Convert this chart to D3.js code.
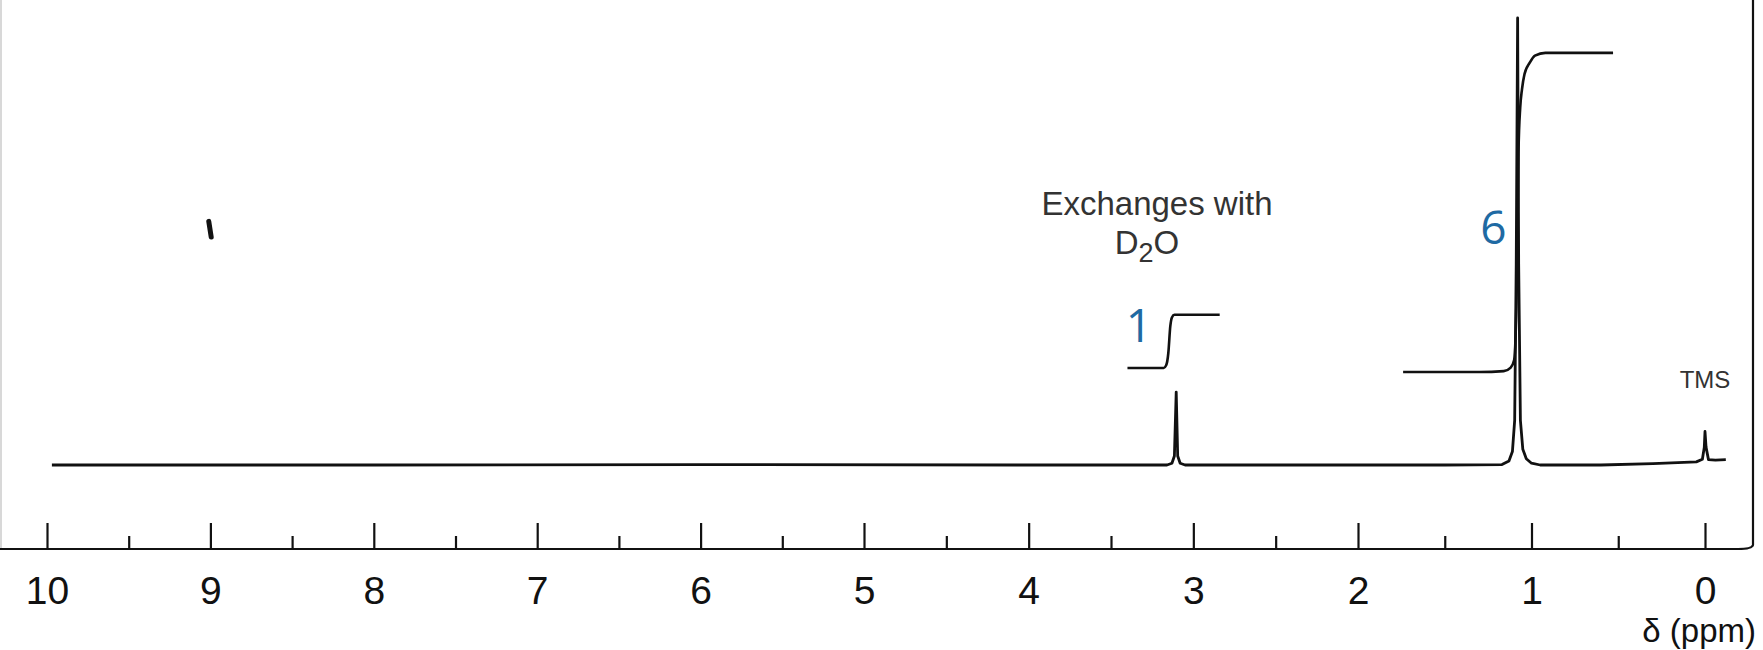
<!DOCTYPE html>
<html>
<head>
<meta charset="utf-8">
<script src="https://cdn.jsdelivr.net/npm/d3@7"></script>
<style>
  html, body { margin: 0; padding: 0; background: #fff; }
  svg { display: block; }
</style>
</head>
<body>
<svg id="chart" width="1763" height="650"></svg>
<script>
// ---------- data ----------
const majorTicks  = [10, 9, 8, 7, 6, 5, 4, 3, 2, 1, 0];
const majorLabels = ["10", "9", "8", "7", "6", "5", "4", "3", "2", "1", "0"];
const minorTicks  = [9.5, 8.5, 7.5, 6.5, 5.5, 4.5, 3.5, 2.5, 1.5, 0.5];
const axisTitle   = "δ (ppm)";

// spectrum trace (chemical shift in ppm, relative intensity)
const specPpm = [9.97, 8.0, 6.0, 4.0, 3.16, 3.13, 3.115, 3.104, 3.095, 3.08, 3.05,
                 1.5, 1.17, 1.13, 1.11, 1.097, 1.088, 1.08, 1.074, 1.064, 1.05, 1.03, 1.0, 0.95,
                 0.6, 0.3, 0.05, 0.015, 0.004, 0.0, -0.006, -0.02, -0.06, -0.12];
const specInt = [0, 0, 0.1, 0, 0, 0.4, 2, 16.3, 2, 0.4, 0,
                 0, 0.1, 0.9, 3, 10, 45, 100, 45, 10, 3.5, 1.4, 0.4, 0,
                 0, 0.3, 0.7, 1.3, 4, 7.5, 4, 1.2, 1.1, 1.2];

// integral trace for the 3.1 ppm signal (relative 1 H)
const int1Ppm = [3.40, 3.18, 3.165, 3.152, 3.14, 3.13, 3.115, 2.84];
const int1Val = [21.7, 21.7, 22.3, 25, 31, 33, 33.6, 33.6];
// integral trace for the 1.08 ppm signal (relative 6 H)
const int6Ppm = [1.74, 1.3, 1.16, 1.12, 1.1, 1.085, 1.075, 1.065, 1.055, 1.04, 1.01, 0.98, 0.92, 0.53];
const int6Val = [20.8, 20.8, 21.0, 21.8, 23.5, 40, 70, 80, 84, 87.5, 90, 91.6, 92.2, 92.2];

// stray pen mark near 9 ppm
const markPpm = [9.01, 8.995];
const markVal = [54.5, 51];

const integralLabels = ["1", "6"];
const integralLabelPpm = [3.33, 1.22];
const integralLabelVal = [27.5, 49.5];

const noteLine1 = "Exchanges with";
const tmsLabel = "TMS";

// ---------- drawing ----------
const svg = d3.select("#chart");
const axisY = 549;

const x = d3.scaleLinear().domain([10, 5, 2, 0]).range([47, 864, 1358, 1705]);
const y = d3.scaleLinear().domain([0, 100]).range([465, 18]);

const ink = "#111";

// frame: faint left border and right border
svg.append("line").attr("x1", 1).attr("x2", 1).attr("y1", 0).attr("y2", 548)
  .attr("stroke", "#d8d8d8").attr("stroke-width", 2);
svg.append("path")
  .attr("d", `M0,${axisY} L1738,${axisY} Q1752,${axisY} 1753,${axisY - 4} L1753,0`)
  .attr("fill", "none").attr("stroke", ink).attr("stroke-width", 2.2);

// major ticks with labels
const gMajor = svg.append("g").attr("transform", `translate(0,${axisY})`)
  .call(d3.axisBottom(x).tickValues(majorTicks).tickSizeInner(-26).tickSizeOuter(0)
        .tickPadding(27).tickFormat((d, i) => majorLabels[i]));
gMajor.select(".domain").remove();
gMajor.selectAll(".tick line").attr("stroke", ink).attr("stroke-width", 2.2);
gMajor.selectAll(".tick text")
  .attr("font-family", "'Liberation Sans', Arial, sans-serif")
  .attr("font-size", 39).attr("fill", ink);

// minor ticks
const gMinor = svg.append("g").attr("transform", `translate(0,${axisY})`)
  .call(d3.axisBottom(x).tickValues(minorTicks).tickSizeInner(-13).tickSizeOuter(0).tickFormat(""));
gMinor.select(".domain").remove();
gMinor.selectAll(".tick line").attr("stroke", ink).attr("stroke-width", 2.2);

// axis title
svg.append("text").attr("x", 1756).attr("y", 642).attr("text-anchor", "end")
  .attr("font-family", "'Liberation Sans', Arial, sans-serif").attr("font-size", 33)
  .attr("fill", ink).text(axisTitle);

// spectrum
const spec = specPpm.map((p, i) => [p, specInt[i]]);
const line = d3.line().x(d => x(d[0])).y(d => y(d[1]));
svg.append("path").datum(spec).attr("d", line)
  .attr("fill", "none").attr("stroke", ink).attr("stroke-width", 2.8)
  .attr("stroke-linejoin", "round");

// integrals
const smooth = d3.line().x(d => x(d[0])).y(d => y(d[1])).curve(d3.curveMonotoneX);
[[int1Ppm, int1Val], [int6Ppm, int6Val]].forEach(([pp, vv]) => {
  svg.append("path").datum(pp.map((p, i) => [p, vv[i]])).attr("d", smooth)
    .attr("fill", "none").attr("stroke", ink).attr("stroke-width", 2.6);
});

// pen mark
svg.append("path").datum(markPpm.map((p, i) => [p, markVal[i]])).attr("d", line)
  .attr("fill", "none").attr("stroke", ink).attr("stroke-width", 5).attr("stroke-linecap", "round");

// integral labels
integralLabels.forEach((t, i) => {
  svg.append("text").attr("x", x(integralLabelPpm[i])).attr("y", y(integralLabelVal[i]))
    .attr("text-anchor", "middle").attr("font-family", "'Open Sans', 'Noto Sans', sans-serif")
    .attr("font-size", 46).attr("fill", "#1f6aa3").text(t);
});

// annotation
const noteFont = "'Liberation Sans', Arial, sans-serif";
svg.append("text").attr("x", 1157).attr("y", 215).attr("text-anchor", "middle")
  .attr("font-family", noteFont).attr("font-size", 33).attr("fill", "#333").text(noteLine1);
const d2o = svg.append("text").attr("x", 1147).attr("y", 254).attr("text-anchor", "middle")
  .attr("font-family", noteFont).attr("font-size", 33).attr("fill", "#333");
d2o.append("tspan").text("D");
d2o.append("tspan").attr("dy", 8).attr("font-size", 27).text("2");
d2o.append("tspan").attr("dy", -8).text("O");

svg.append("text").attr("x", x(0)).attr("y", 388).attr("text-anchor", "middle")
  .attr("font-family", noteFont).attr("font-size", 24).attr("fill", "#333").text(tmsLabel);
</script>
</body>
</html>
